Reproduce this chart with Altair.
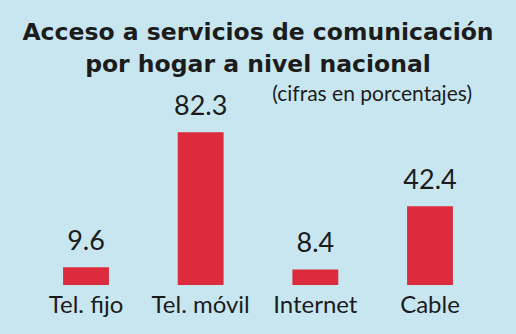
import altair as alt
import pandas as pd

categories = ["Tel. fijo", "Tel. móvil", "Internet", "Cable"]
values = [9.6, 82.3, 8.4, 42.4]
value_labels = ["9.6", "82.3", "8.4", "42.4"]
subtitle = ["(cifras en porcentajes)"]

df = pd.DataFrame({"cat": categories, "val": values, "lab": value_labels})
df_sub = pd.DataFrame({"t": subtitle})

BG = "#c8e6f0"
RED = "#dc2b3d"
INK = "#1c1c1c"

x = alt.X("cat:N", sort=categories, title=None,
          scale=alt.Scale(paddingInner=0.6, paddingOuter=0.55),
          axis=alt.Axis(domain=False, ticks=False, labelAngle=0, labelFontSize=24,
                        labelFont="Lato", labelColor=INK, labelPadding=8))
y = alt.Y("val:Q", scale=alt.Scale(domain=[0, 94.3]), axis=None)

bars = alt.Chart(df).mark_bar(color=RED).encode(x=x, y=y)
text = alt.Chart(df).mark_text(baseline="bottom", dy=-11, fontSize=27, font="Lato",
                               fontWeight="normal", color=INK).encode(x=x, y=y, text="lab:N")
sub = alt.Chart(df_sub).mark_text(align="right", baseline="alphabetic", fontSize=21,
                                  font="Lato", fontWeight="normal", color=INK).encode(
    x=alt.value(472), y=alt.value(-9), text="t:N")

chart = alt.layer(bars, text, sub).properties(
    width=516, height=175,
    autosize=alt.AutoSizeParams(type="none"),
    padding={"left": 0, "right": 0, "top": 110, "bottom": 49},
    background=BG,
    title=alt.Title(["Acceso a servicios de comunicación", "por hogar a nivel nacional"],
                    anchor="middle", fontSize=23.5, font="DejaVu Sans", fontWeight="bold",
                    color=INK, lineHeight=32, offset=8),
).configure_view(stroke=None)

chart.save("out.html", embed_options={"renderer": "svg", "actions": False})
